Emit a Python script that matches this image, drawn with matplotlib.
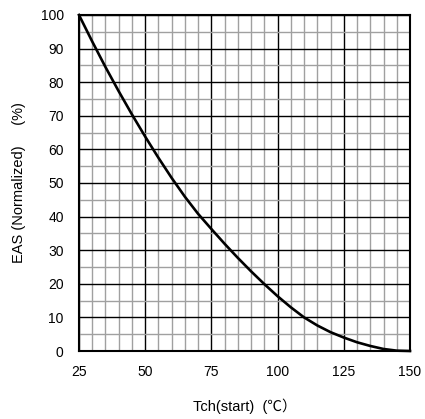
import matplotlib
matplotlib.use("Agg")
from matplotlib import pyplot as plt
from matplotlib.ticker import MultipleLocator

# curve
tch = [25, 30, 35, 40, 45, 50, 55, 60, 65, 70, 75, 80, 85, 90, 95,
       100, 105, 110, 115, 120, 125, 130, 135, 140, 145, 150]
eas = [100, 92.1, 84.5, 77.3, 70.4, 63.8, 57.5, 51.5, 45.9, 40.8, 36.3, 31.9, 27.7, 23.7, 19.9,
       16.3, 13.0, 10.0, 7.6, 5.6, 4.0, 2.6, 1.5, 0.6, 0.1, 0]

x_ticks = [25, 50, 75, 100, 125, 150]
y_ticks = [0, 10, 20, 30, 40, 50, 60, 70, 80, 90, 100]

plt.rcParams['font.family'] = ['Liberation Sans', 'Noto Sans CJK JP', 'DejaVu Sans']

fig = plt.figure(figsize=(4.25, 4.19), dpi=100)
ax = fig.add_axes([79 / 425, 68 / 419, 331 / 425, 336 / 419])

ax.set_xlim(25, 150)
ax.set_ylim(0, 100)
ax.set_xticks(x_ticks)
ax.set_yticks(y_ticks)
ax.xaxis.set_minor_locator(MultipleLocator(5))
ax.yaxis.set_minor_locator(MultipleLocator(5))
ax.grid(which="minor", color="#a0a0a0", linewidth=1.0)
ax.grid(which="major", color="black", linewidth=1.0)
ax.set_axisbelow(True)
ax.tick_params(which="both", length=0)
ax.tick_params(axis="x", pad=10, labelsize=10)
ax.tick_params(axis="y", pad=11, labelsize=10)
for sp in ax.spines.values():
    sp.set_linewidth(1.5)

ax.plot(tch, eas, color="black", linewidth=1.9, clip_on=False, zorder=3)

ax.set_xlabel("Tch(start)  (℃）", fontsize=10.5)
ax.xaxis.set_label_coords(0.5, -0.14)
ax.set_ylabel("EAS (Normalized)     (%)", fontsize=10.5)
ax.yaxis.set_label_coords(-0.16, 0.5)

fig.savefig("out.png", dpi=100)
